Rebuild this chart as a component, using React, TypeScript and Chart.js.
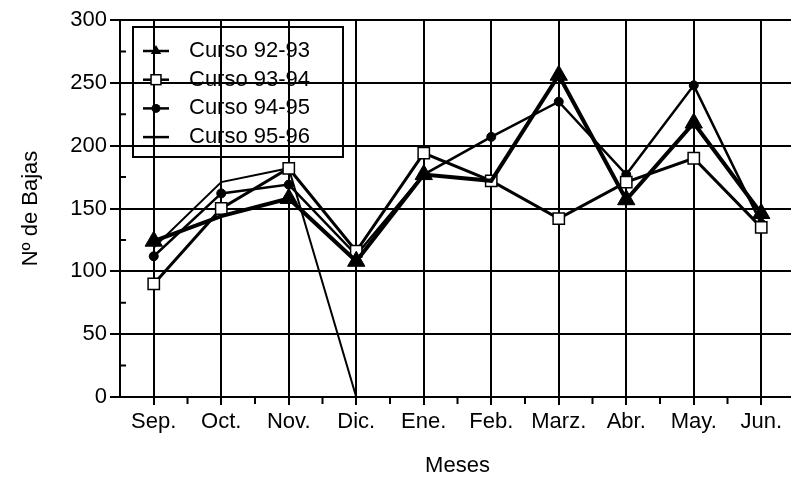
import React, { useEffect, useRef } from 'react';
import { Chart, registerables } from 'chart.js';

Chart.register(...registerables);

const months = ['Sep.', 'Oct.', 'Nov.', 'Dic.', 'Ene.', 'Feb.', 'Marz.', 'Abr.', 'May.', 'Jun.'];
const curso9293 = [124, 144, 158, 108, 177, 172, 256, 157, 218, 146];
const curso9394 = [90, 150, 182, 116, 194, 172, 142, 171, 190, 135];
const curso9495 = [112, 162, 169, 113, 177, 207, 235, 177, 248, 138];
const curso9596 = [119, 171, 182, 0, null, null, null, null, null, null];
const seriesLabels = ['Curso 92-93', 'Curso 93-94', 'Curso 94-95', 'Curso 95-96'];
const yMin = 0;
const yMax = 300;
const yStep = 50;
const yTitle = 'Nº de Bajas';
const xTitle = 'Meses';

const FONT = '"Liberation Sans", Arial, sans-serif';
const CANVAS_W = 806;
const CANVAS_H = 479;

function drawMarker(ctx: CanvasRenderingContext2D, style: string, x: number, y: number, r: number) {
  ctx.save();
  ctx.strokeStyle = '#000';
  ctx.lineWidth = 1.5;
  if (style === 'triangle') {
    ctx.fillStyle = '#000';
    ctx.beginPath();
    ctx.moveTo(x, y - r);
    ctx.lineTo(x + r * Math.sin((2 * Math.PI) / 3), y + r / 2);
    ctx.lineTo(x - r * Math.sin((2 * Math.PI) / 3), y + r / 2);
    ctx.closePath();
    ctx.fill();
  } else if (style === 'rect') {
    const s = r * Math.SQRT1_2;
    ctx.fillStyle = '#fff';
    ctx.fillRect(x - s, y - s, 2 * s, 2 * s);
    ctx.strokeRect(x - s, y - s, 2 * s, 2 * s);
  } else if (style === 'circle') {
    ctx.fillStyle = '#000';
    ctx.beginPath();
    ctx.arc(x, y, r, 0, Math.PI * 2);
    ctx.fill();
  }
  ctx.restore();
}

const legendBoxPlugin = {
  id: 'legendBox',
  afterDraw(chart: any) {
    const { ctx, chartArea } = chart;
    const left = chartArea.left + 13;
    const top = chartArea.top + 7;
    const w = 210;
    const h = 130;
    ctx.save();
    ctx.strokeStyle = '#000';
    ctx.lineWidth = 2;
    ctx.strokeRect(left, top, w, h);
    const legendMarkers = [
      { style: 'triangle', r: 6 },
      { style: 'rect', r: 7 },
      { style: 'circle', r: 4.5 },
      { style: 'none', r: 0 },
    ];
    chart.data.datasets.forEach((ds: any, i: number) => {
      const cy = top + 24 + i * 28.7;
      ctx.strokeStyle = '#000';
      ctx.lineWidth = 2.5;
      ctx.beginPath();
      ctx.moveTo(left + 10, cy);
      ctx.lineTo(left + 36, cy);
      ctx.stroke();
      const m = legendMarkers[i];
      if (m.style !== 'none') drawMarker(ctx, m.style, left + 23, cy, m.r);
      ctx.fillStyle = '#000';
      ctx.font = `22px ${FONT}`;
      ctx.textBaseline = 'middle';
      ctx.textAlign = 'left';
      ctx.fillText(ds.label, left + 56, cy);
    });
    ctx.restore();
  },
};

const minorTicksPlugin = {
  id: 'minorTicks',
  afterDraw(chart: any) {
    const { ctx, chartArea } = chart;
    const x = chart.scales.x;
    const y = chart.scales.y;
    ctx.save();
    ctx.strokeStyle = '#000';
    ctx.lineWidth = 2;
    ctx.beginPath();
    for (let i = 0; i < months.length - 1; i++) {
      const px = (x.getPixelForValue(i) + x.getPixelForValue(i + 1)) / 2;
      ctx.moveTo(px, chartArea.bottom);
      ctx.lineTo(px, chartArea.bottom + 7);
    }
    for (let v = yMin + yStep / 2; v < yMax; v += yStep) {
      const py = y.getPixelForValue(v);
      ctx.moveTo(chartArea.left, py);
      ctx.lineTo(chartArea.left + 6, py);
    }
    ctx.stroke();
    ctx.restore();
  },
};

export default function App() {
  const canvasRef = useRef<HTMLCanvasElement | null>(null);

  useEffect(() => {
    const canvas = canvasRef.current;
    if (!canvas) return;
    const chart = new Chart(canvas, {
      type: 'line',
      data: {
        labels: months,
        datasets: [
          {
            label: seriesLabels[0],
            data: curso9293,
            borderColor: '#000',
            backgroundColor: '#000',
            borderWidth: 4,
            pointStyle: 'triangle',
            pointRadius: [10, 0, 10, 10, 10, 0, 10, 10, 10, 10],
            pointBackgroundColor: '#000',
            pointBorderColor: '#000',
            pointBorderWidth: 1,
            tension: 0,
          },
          {
            label: seriesLabels[1],
            data: curso9394,
            borderColor: '#000',
            backgroundColor: '#fff',
            borderWidth: 3,
            pointStyle: 'rect',
            pointRadius: 8,
            pointBackgroundColor: '#fff',
            pointBorderColor: '#000',
            pointBorderWidth: 1.5,
            tension: 0,
          },
          {
            label: seriesLabels[2],
            data: curso9495,
            borderColor: '#000',
            backgroundColor: '#000',
            borderWidth: 2.5,
            pointStyle: 'circle',
            pointRadius: 4.5,
            pointBackgroundColor: '#000',
            pointBorderColor: '#000',
            pointBorderWidth: 1,
            tension: 0,
          },
          {
            label: seriesLabels[3],
            data: curso9596,
            borderColor: '#000',
            backgroundColor: '#000',
            borderWidth: 2,
            pointRadius: 0,
            tension: 0,
            spanGaps: false,
          },
        ],
      },
      options: {
        responsive: false,
        animation: false,
        events: [],
        layout: { padding: { top: 20, right: 5, left: 0, bottom: 0 } },
        plugins: {
          legend: { display: false },
          tooltip: { enabled: false },
        },
        scales: {
          x: {
            type: 'category',
            offset: true,
            grid: {
              offset: false,
              color: '#000',
              lineWidth: 2,
              tickLength: 8,
              tickColor: '#000',
            },
            border: { display: true, color: '#000', width: 2 },
            ticks: {
              color: '#000',
              font: { family: FONT, size: 22 },
              padding: 4,
              maxRotation: 0,
              autoSkip: false,
            },
            title: {
              display: true,
              text: xTitle,
              color: '#000',
              font: { family: FONT, size: 22 },
              padding: { top: 0, bottom: 0 },
            },
            afterFit(scale: any) {
              scale.height = 82;
            },
          },
          y: {
            min: yMin,
            max: yMax,
            grid: {
              color: '#000',
              lineWidth: 2,
              tickLength: 10,
              tickColor: '#000',
            },
            border: { display: true, color: '#000', width: 2 },
            ticks: {
              stepSize: yStep,
              color: '#000',
              font: { family: FONT, size: 22 },
              padding: 3,
            },
            title: {
              display: true,
              text: yTitle,
              color: '#000',
              font: { family: FONT, size: 22 },
              padding: { top: 18, bottom: 0 },
            },
            afterFit(scale: any) {
              scale.width = 120;
            },
          },
        },
      },
      plugins: [minorTicksPlugin, legendBoxPlugin],
    });
    return () => chart.destroy();
  }, []);

  return (
    <div style={{ position: 'fixed', left: 0, top: 0, width: CANVAS_W, height: CANVAS_H, background: '#fff' }}>
      <canvas
        ref={canvasRef}
        width={CANVAS_W}
        height={CANVAS_H}
        style={{ display: 'block', width: CANVAS_W, height: CANVAS_H }}
      />
    </div>
  );
}
